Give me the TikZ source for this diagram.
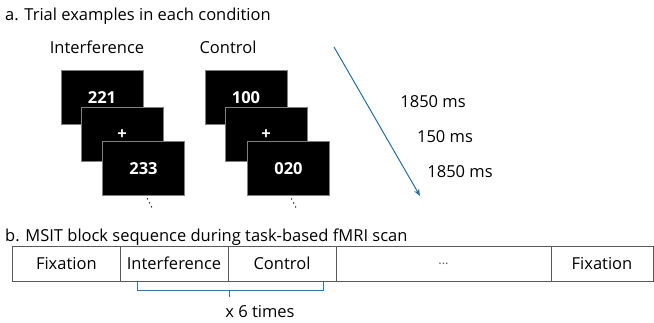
\documentclass[tikz,border=0pt]{standalone}
\usepackage{fontspec}
\setmainfont{Open Sans}
\usetikzlibrary{arrows.meta}
\definecolor{arrowblue}{RGB}{40,110,160}
\definecolor{braceblue}{RGB}{46,117,182}
\definecolor{boxgray}{RGB}{128,128,128}
\definecolor{seqgray}{RGB}{89,89,89}
\tikzset{
  screen/.style={draw=boxgray, fill=black, line width=0.9pt, minimum width=82pt, minimum height=54pt, inner sep=0pt},
  scrtxt/.style={text=white, font=\fontsize{16.5}{19}\selectfont\bfseries, inner sep=0pt},
  lbl/.style={font=\fontsize{16.5}{19}\selectfont, inner sep=0pt},
  cell/.style={draw=seqgray, line width=0.8pt, minimum height=35pt, inner sep=0pt, font=\fontsize{16.5}{19}\selectfont},
  dotstyle/.style={fill=black, circle, inner sep=0pt, minimum size=1.5pt},
}
\begin{document}
\begin{tikzpicture}[x=1pt,y=-1pt]
\useasboundingbox (0,0) rectangle (654,323);
% headings
\node[lbl, anchor=west] (ha) at (5,16) {a. Trial examples in each condition};
\node[lbl] (ti) at (97,47) {Interference};
\node[lbl] (tc) at (228,47) {Control};
% interference screens
\node[screen] (i1) at (102,97) {};
\node[scrtxt] (i1t) at (102,98) {221};
\node[screen] (i2) at (122,134) {};
\node[scrtxt] (i2t) at (122,135) {+};
\node[screen] (i3) at (143.5,168) {};
\node[scrtxt] (i3t) at (143.5,169) {233};
\node[dotstyle] (id1) at (147.5,199) {};
\node[dotstyle] (id2) at (149.5,203) {};
\node[dotstyle] (id3) at (151.5,207) {};
% control screens
\node[screen] (c1) at (246,97) {};
\node[scrtxt] (c1t) at (246,98) {100};
\node[screen] (c2) at (266,134) {};
\node[scrtxt] (c2t) at (266,135) {+};
\node[screen] (c3) at (288.5,168) {};
\node[scrtxt] (c3t) at (288.5,169) {020};
\node[dotstyle] (cd1) at (291.5,199) {};
\node[dotstyle] (cd2) at (293.5,203) {};
\node[dotstyle] (cd3) at (295.5,207) {};
% time arrow
\coordinate (as) at (334,47);
\coordinate (ae) at (420,196);
\draw[arrowblue, line width=1pt, -{Stealth[length=7pt,width=5.5pt]}] (as) -- (ae);
\node[lbl] (t1) at (433,102) {1850 ms};
\node[lbl] (t2) at (445,137) {150 ms};
\node[lbl] (t3) at (460,172) {1850 ms};
% part b
\node[lbl, anchor=west] (hb) at (5,237) {b. MSIT block sequence during task-based fMRI scan};
\node[cell, minimum width=107.3pt] (s1) at (66.35,263.5) {Fixation};
\node[cell, minimum width=108pt] (s2) at (174,263.5) {Interference};
\node[cell, minimum width=108pt] (s3) at (282,263.5) {Control};
\node[cell, minimum width=215pt, font=\fontsize{13}{15}\selectfont, text=seqgray] (s4) at (443.5,263.5) {\raisebox{-2pt}{...}};
\node[cell, minimum width=102pt] (s5) at (602,263.5) {Fixation};
% brace
\coordinate (b1) at (137,282);
\coordinate (b2) at (323,282);
\draw[braceblue, line width=0.9pt] (b1) -- (137,290) -- (323,290) -- (b2);
\draw[braceblue, line width=0.9pt] (229,290) -- (229,297);
\node[lbl] (rep) at (260,312) {x 6 times};
\end{tikzpicture}
\end{document}
